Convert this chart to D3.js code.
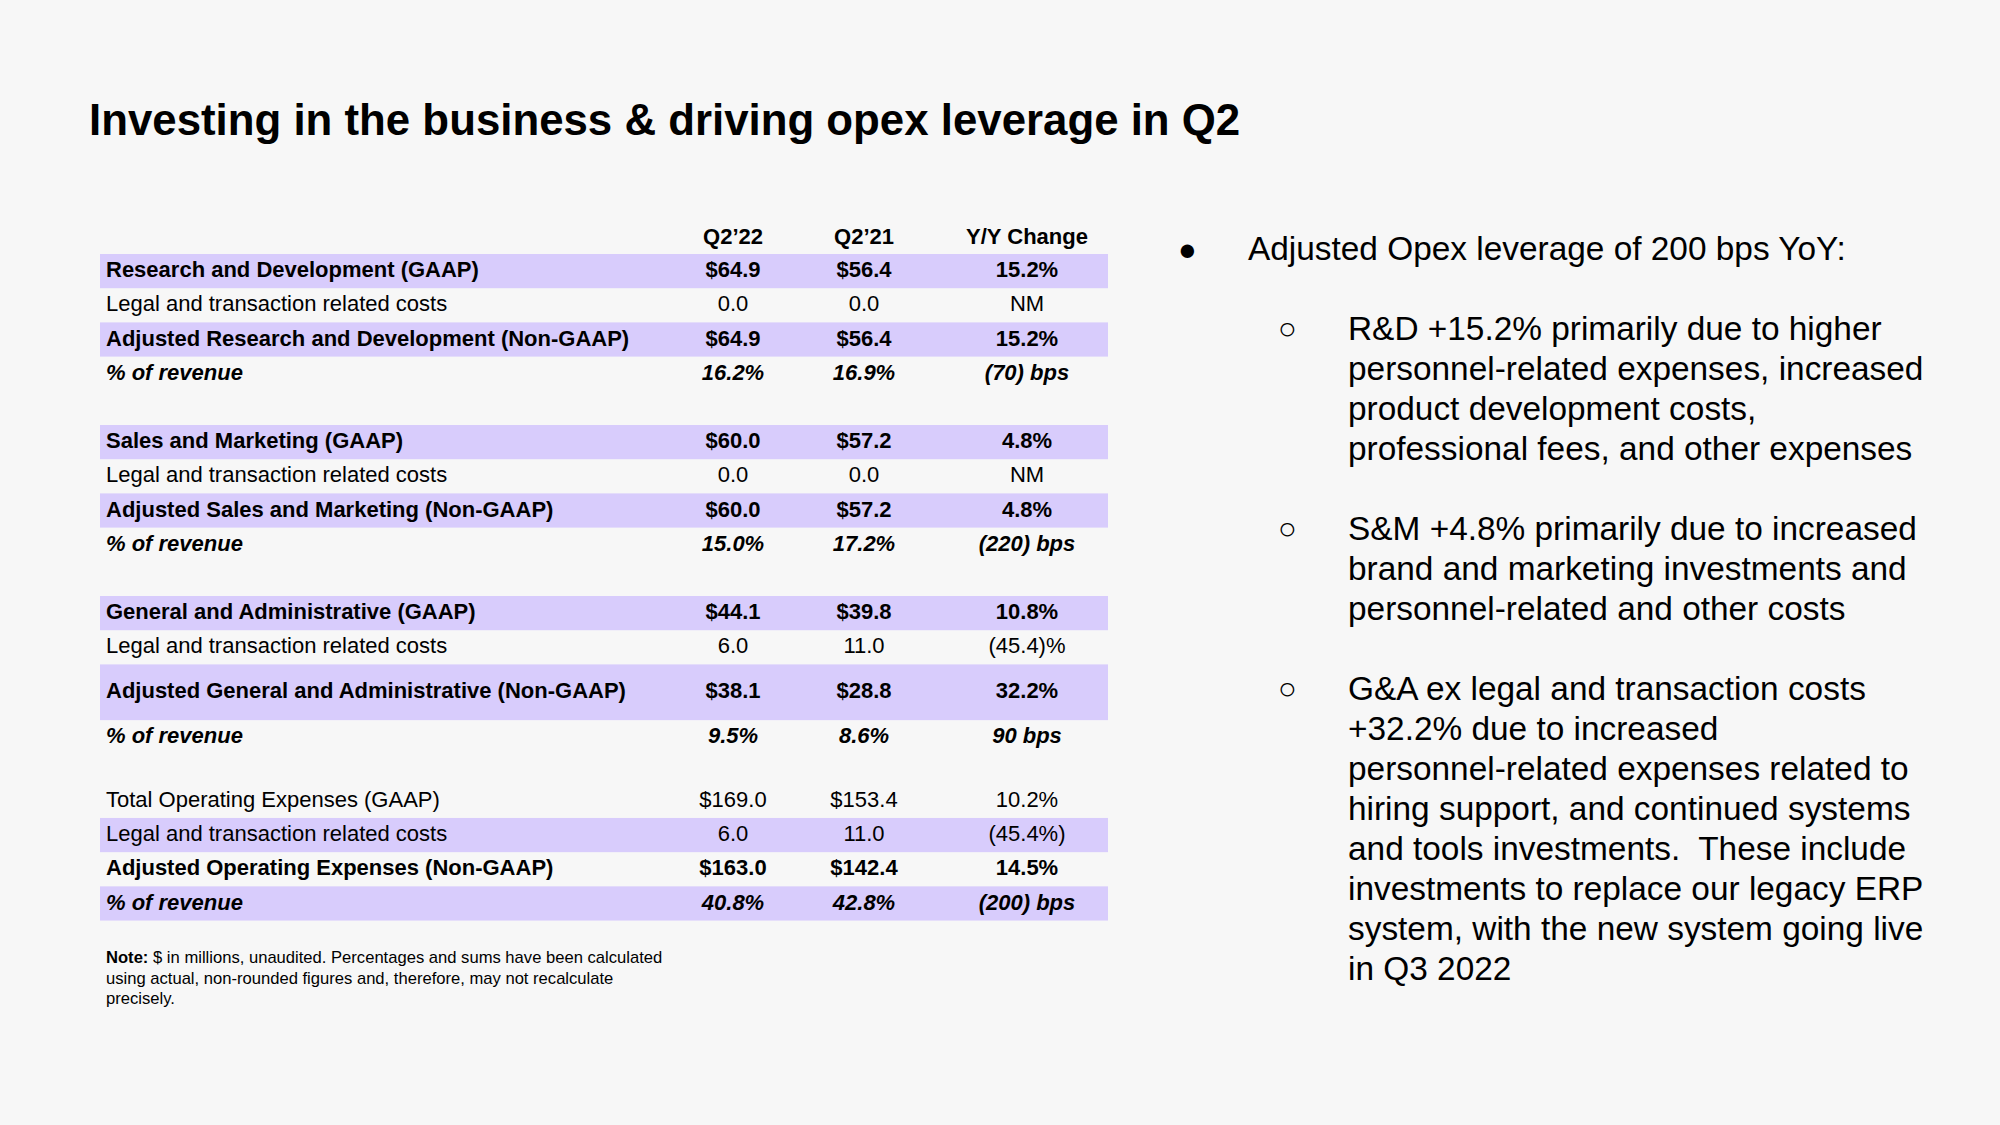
<!DOCTYPE html>
<html>
<head>
<meta charset="utf-8">
<script src="https://cdn.jsdelivr.net/npm/d3@7"></script>
<style>
  html, body { margin: 0; padding: 0; background: #f7f7f7; }
  svg { display: block; }
  text { font-family: "Liberation Sans", Arial, Helvetica, sans-serif; fill: #000; white-space: pre; }
</style>
</head>
<body>
<svg id="chart" width="2000" height="1125"></svg>
<script>
// ---------------- DATA ----------------
const title = "Investing in the business & driving opex leverage in Q2";
const columns = ["Q2\u201922", "Q2\u201921", "Y/Y Change"];

const rowLabels = [
  "Research and Development (GAAP)",
  "Legal and transaction related costs",
  "Adjusted Research and Development (Non-GAAP)",
  "% of revenue",
  "",
  "Sales and Marketing (GAAP)",
  "Legal and transaction related costs",
  "Adjusted Sales and Marketing (Non-GAAP)",
  "% of revenue",
  "",
  "General and Administrative (GAAP)",
  "Legal and transaction related costs",
  "Adjusted General and Administrative (Non-GAAP)",
  "% of revenue",
  "",
  "Total Operating Expenses (GAAP)",
  "Legal and transaction related costs",
  "Adjusted Operating Expenses (Non-GAAP)",
  "% of revenue"
];
const q222Values = ["$64.9","0.0","$64.9","16.2%","", "$60.0","0.0","$60.0","15.0%","", "$44.1","6.0","$38.1","9.5%","", "$169.0","6.0","$163.0","40.8%"];
const q221Values = ["$56.4","0.0","$56.4","16.9%","", "$57.2","0.0","$57.2","17.2%","", "$39.8","11.0","$28.8","8.6%","", "$153.4","11.0","$142.4","42.8%"];
const yoyValues  = ["15.2%","NM","15.2%","(70) bps","", "4.8%","NM","4.8%","(220) bps","", "10.8%","(45.4)%","32.2%","90 bps","", "10.2%","(45.4%)","14.5%","(200) bps"];
// row kind: b = bold, r = regular, i = bold italic, s = spacer
const rowKinds = ["b","r","b","i","s", "b","r","b","i","s", "b","r","b","i","s", "r","r","b","i"];
// rows drawn on a lavender band
const highlightedRows = [0, 2, 5, 7, 10, 12, 16, 18];

const noteBold = "Note:";
const noteLines = [
  " $ in millions, unaudited. Percentages and sums have been calculated",
  "using actual, non-rounded figures and, therefore, may not recalculate",
  "precisely."
];

const bulletMain = "Adjusted Opex leverage of 200 bps YoY:";
const subBullets = [
  ["R&D +15.2% primarily due to higher",
   "personnel-related expenses, increased",
   "product development costs,",
   "professional fees, and other expenses"],
  ["S&M +4.8% primarily due to increased",
   "brand and marketing investments and",
   "personnel-related and other costs"],
  ["G&A ex legal and transaction costs",
   "+32.2% due to increased",
   "personnel-related expenses related to",
   "hiring support, and continued systems",
   "and tools investments.  These include",
   "investments to replace our legacy ERP",
   "system, with the new system going live",
   "in Q3 2022"]
];

// ---------------- LAYOUT ----------------
const svg = d3.select("#chart");
const BG = "#f7f7f7", BAND = "#d8ccfc";
svg.append("rect").attr("width", 2000).attr("height", 1125).attr("fill", BG);

svg.append("text")
  .attr("x", 89).attr("y", 135)
  .attr("font-size", 43.8).attr("font-weight", "bold")
  .text(title);

// row heights in units (the Adjusted G&A row is taller, last spacer shorter)
const rowUnits = rowKinds.map((k, i) => i === 12 ? 1.63 : (i === 14 ? 0.86 : 1));
const cum = [0];
rowUnits.forEach(u => cum.push(cum[cum.length - 1] + u));
const y = d3.scaleLinear().domain([0, 1]).range([254, 288.2]);

const tableLeft = 100, tableRight = 1108, labelX = 106;
const x = d3.scaleOrdinal().domain(columns).range([733, 864, 1027]);
const tableFont = 22;

// header
svg.append("g").selectAll("text").data(columns).join("text")
  .attr("x", d => x(d)).attr("y", 244)
  .attr("text-anchor", "middle")
  .attr("font-size", tableFont).attr("font-weight", "bold")
  .text(d => d);

const rows = rowLabels.map((label, i) => ({
  i, label, kind: rowKinds[i],
  vals: [q222Values[i], q221Values[i], yoyValues[i]],
  top: y(cum[i]), bottom: y(cum[i + 1]),
  hl: highlightedRows.includes(i)
}));

svg.append("g").selectAll("rect").data(rows.filter(r => r.hl)).join("rect")
  .attr("x", tableLeft).attr("width", tableRight - tableLeft)
  .attr("y", d => d.top).attr("height", d => d.bottom - d.top)
  .attr("fill", BAND);

const rowG = svg.append("g").selectAll("g").data(rows.filter(r => r.kind !== "s")).join("g")
  .attr("font-size", tableFont)
  .attr("font-weight", d => d.kind === "r" ? "normal" : "bold")
  .attr("font-style", d => d.kind === "i" ? "italic" : "normal");

const baseY = d => (d.top + d.bottom) / 2 + tableFont * 0.28;
rowG.append("text")
  .attr("x", labelX)
  .attr("y", baseY)
  .text(d => d.label);

rowG.selectAll("text.v").data(d => d.vals.map((v, j) => ({ v, col: columns[j], r: d }))).join("text")
  .attr("class", "v")
  .attr("x", d => x(d.col))
  .attr("y", d => baseY(d.r))
  .attr("text-anchor", "middle")
  .text(d => d.v);

// note
const note = svg.append("g").attr("font-size", 16.6);
noteLines.forEach((line, k) => {
  const t = note.append("text").attr("x", 106).attr("y", 963 + k * 20.5);
  if (k === 0) t.append("tspan").attr("font-weight", "bold").text(noteBold);
  t.append("tspan").text(line);
});

// right side bullets
const bFont = 33.4, lineH = 40;
const right = svg.append("g").attr("font-size", bFont);
right.append("text").attr("x", 1178).attr("y", 260).attr("font-size", 31).text("\u25CF");
right.append("text").attr("x", 1248).attr("y", 260).text(bulletMain);

const subStarts = [340, 540, 700];
subBullets.forEach((lines, b) => {
  right.append("text").attr("x", 1278).attr("y", subStarts[b] - 1)
    .attr("font-size", 31).text("\u25CB");
  lines.forEach((ln, k) => {
    right.append("text").attr("x", 1348).attr("y", subStarts[b] + k * lineH).text(ln);
  });
});
</script>
</body>
</html>
